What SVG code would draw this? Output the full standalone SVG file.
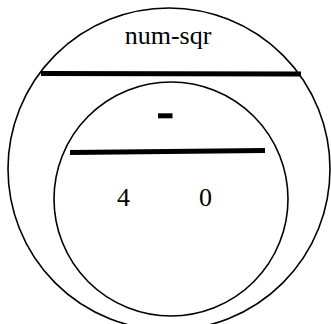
<svg xmlns="http://www.w3.org/2000/svg" width="331" height="324" viewBox="0 0 331 324">
<style>
.c{fill:none;stroke:#000;stroke-width:1.6}
.bar{stroke:#000;stroke-width:5;fill:none}
text{font-family:"Liberation Serif","Times New Roman",serif;font-size:26px;fill:#000;text-anchor:middle}
</style>
<rect width="331" height="324" fill="#fff"/>
<g id="outer">
<circle class="c" cx="169" cy="169" r="161"/>
<text x="168" y="44">num-sqr</text>
</g>
<g id="inner">
<circle class="c" cx="171" cy="199" r="117"/>
<line class="bar" x1="158" y1="115.8" x2="172.5" y2="115.8"/>
<text x="123.5" y="206">4</text>
<text x="205.5" y="206">0</text>
</g>
<g id="connectors">
<line class="bar" x1="41" y1="73.5" x2="301" y2="74"/>
<line class="bar" x1="70" y1="152.5" x2="265" y2="150.5"/>
</g>
</svg>
